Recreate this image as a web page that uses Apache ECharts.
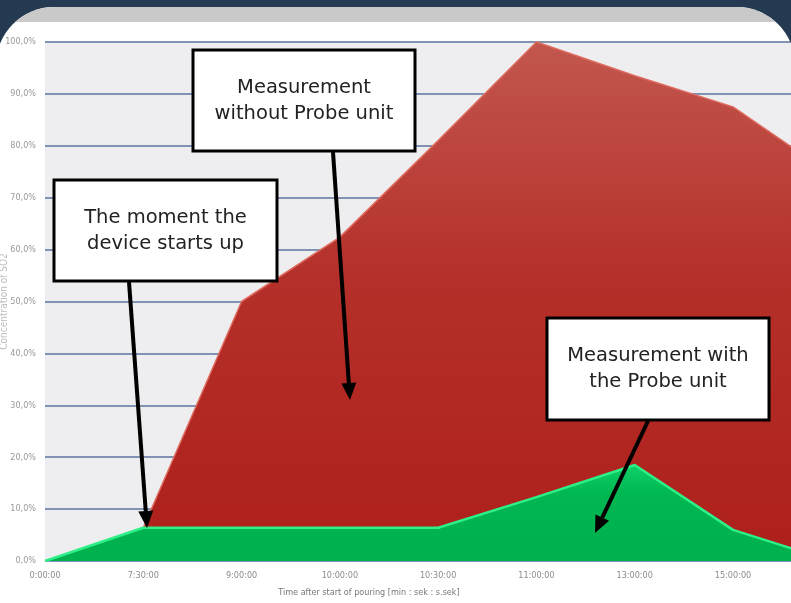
<!DOCTYPE html>
<html>
<head>
<meta charset="utf-8">
<script src="https://cdn.jsdelivr.net/npm/echarts@6/dist/echarts.min.js"></script>
<style>
html,body{margin:0;padding:0;background:#233a50;width:791px;height:603px;overflow:hidden;}
#panel{position:absolute;left:-4px;top:7px;width:799px;height:600px;border-radius:58px 58px 0 0;overflow:hidden;background:#fff;}
#chart{position:absolute;left:4px;top:-7px;width:791px;height:603px;}
</style>
</head>
<body>
<div id="panel"><div id="chart"></div></div>
<script>
// ---- data ----
var categories = ["0:00:00","7:30:00","9:00:00","10:00:00","10:30:00","11:00:00","13:00:00","15:00:00",""];
var withoutProbe = [0, 6.4, 50, 62.4, 81, 100, 93.5, 87.5, 74.5];
var withProbe    = [0, 6.4, 6.4, 6.4, 6.4, 12.3, 18.5, 6, 0];
var yTicks = [0,10,20,30,40,50,60,70,80,90,100];

var chart = echarts.init(document.getElementById('chart'), null, {renderer:'canvas'});
var labelFont = "'Liberation Sans Narrow','DejaVu Sans Condensed','Open Sans',sans-serif";
var boxFont = "'DejaVu Sans','Noto Sans',sans-serif";

function box(x1,y1,x2,y2,lines){
  var cx=(x1+x2)/2, cy=(y1+y2)/2;
  return [
    {type:'rect', z:100, shape:{x:x1,y:y1,width:x2-x1,height:y2-y1}, style:{fill:'#fff',stroke:'#000',lineWidth:3}},
    {type:'text', z:101, x:cx, y:cy, style:{text:lines.join('\n'), fill:'#222', font:'19.5px '+boxFont, align:'center', verticalAlign:'middle', lineHeight:26}}
  ];
}
function arrow(x1,y1,x2,y2){
  var a=Math.atan2(y2-y1,x2-x1), L=17, W=7.5;
  var bx=x2-L*Math.cos(a), by=y2-L*Math.sin(a);
  var px=-Math.sin(a), py=Math.cos(a);
  return [
    {type:'line', z:99, shape:{x1:x1,y1:y1,x2:bx,y2:by}, style:{stroke:'#000',lineWidth:4}},
    {type:'polygon', z:99, shape:{points:[[x2,y2],[bx+px*W,by+py*W],[bx-px*W,by-py*W]]}, style:{fill:'#000'}}
  ];
}

var graphics = [
  {type:'rect', z:-10, silent:true, shape:{x:0,y:7,width:791,height:15}, style:{fill:'#c9c9c9'}}
].concat(
  box(193,50,415,151,['Measurement','without Probe unit']),
  arrow(333,152,350,400),
  box(54,180,277,281,['The moment the','device starts up']),
  arrow(129,282,147,528),
  box(547,318,769,420,['Measurement with','the Probe unit']),
  arrow(648,421,595,533)
);

var option = {
  backgroundColor:'transparent',
  animation:false,
  grid:{left:45, right:0, top:42, bottom:42, containLabel:false, outerBoundsMode:'none', show:true, backgroundColor:'#eeeef1', borderWidth:0},
  xAxis:{
    type:'value', min:0, max:7.59, interval:1,
    axisLine:{show:false}, axisTick:{show:false}, splitLine:{show:false},
    axisLabel:{showMaxLabel:false, color:'#8c8c8c', fontSize:9, fontFamily:labelFont, margin:10,
      formatter:function(v){return categories[Math.round(v)]||'';}},
    name:'Time after start of pouring [min : sek : s.sek]', nameLocation:'middle', nameGap:27, nameMoveOverlap:false,
    nameTextStyle:{color:'#777', fontSize:9, fontFamily:labelFont, padding:[0,98,0,0]}
  },
  yAxis:{
    type:'value', min:yTicks[0], max:yTicks[yTicks.length-1], interval:10,
    axisLine:{show:false}, axisTick:{show:false},
    splitLine:{show:true, lineStyle:{color:'#8192b3', width:2}},
    axisLabel:{color:'#9a9a9a', fontSize:9, fontFamily:labelFont, margin:9,
      formatter:function(v){return v.toFixed(1).replace('.',',')+'%';}},
    name:'Concentration of SO2', nameLocation:'middle', nameGap:36, nameRotate:90, nameMoveOverlap:false,
    nameTextStyle:{color:'#bdbdbd', fontSize:10, fontFamily:labelFont}
  },
  series:[
    {
      name:'Measurement without Probe unit', type:'line', symbol:'none', z:2,
      data: withoutProbe.map(function(v,i){return [i,v];}),
      lineStyle:{color:'#de6a5e', width:1.5},
      areaStyle:{opacity:1, color:new echarts.graphic.LinearGradient(0,0,0,1,[
        {offset:0,color:'#c2574e'},{offset:0.45,color:'#b5302a'},{offset:1,color:'#ae1f1a'}])}
    },
    {
      name:'Measurement with the Probe unit', type:'line', symbol:'none', z:3,
      data: withProbe.map(function(v,i){return [i,v];}),
      lineStyle:{color:'#2ef088', width:2.5},
      areaStyle:{opacity:1, color:new echarts.graphic.LinearGradient(0,0,0,1,[
        {offset:0,color:'#10d068'},{offset:0.3,color:'#00b752'},{offset:1,color:'#00b04e'}])}
    }
  ],
  graphic: graphics
};
chart.setOption(option);
</script>
</body>
</html>
